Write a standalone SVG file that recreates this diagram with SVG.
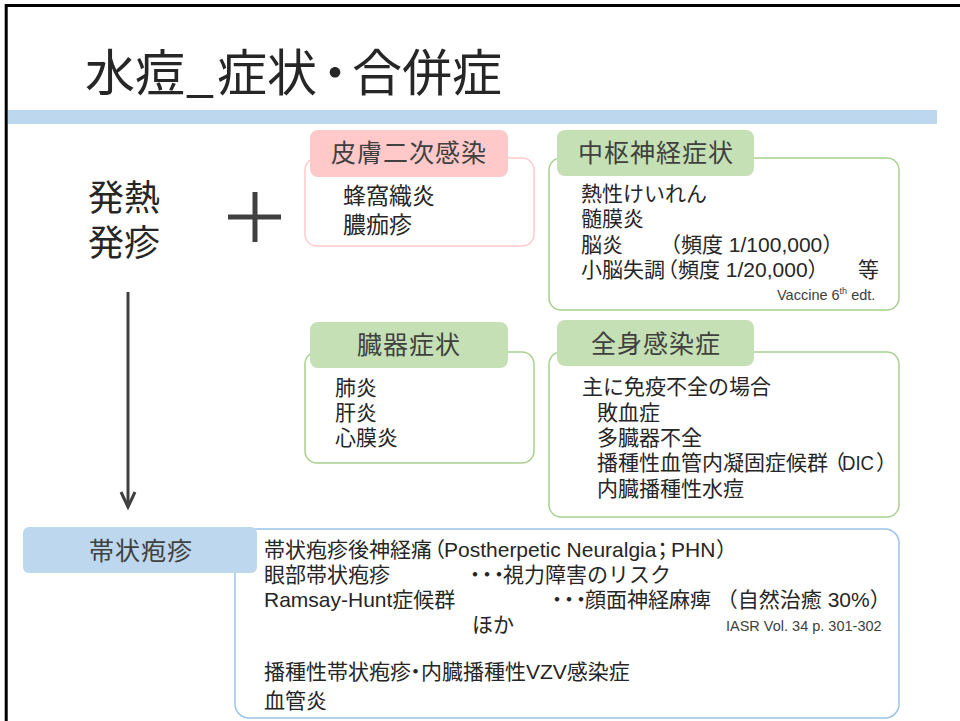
<svg xmlns="http://www.w3.org/2000/svg" width="960" height="721" viewBox="0 0 960 721">
  <style>
    .jp { font-family: "Liberation Sans", "Noto Sans CJK JP", sans-serif; fill: #262626; }
    .title { font-family: "Noto Sans CJK JP", sans-serif; font-size: 50px; fill: #262626; }
    .hdr { font-family: "Noto Sans CJK JP", sans-serif; font-size: 25px; fill: #404040; text-anchor: middle; letter-spacing: 1px; }
    .b21 { font-size: 21px; }
    .b23 { font-size: 23px; }
    .small { font-family: "Liberation Sans", sans-serif; font-size: 14.5px; fill: #404040; }
    .pinkH { fill: #ffc9c9; }
    .pinkB { fill: #ffffff; stroke: #ffcaca; stroke-width: 1.5; }
    .greenH { fill: #c5e0b4; }
    .greenB { fill: #ffffff; stroke: #a9d18e; stroke-width: 1.5; }
    .blueH { fill: #bdd7ee; }
    .blueB { fill: #ffffff; stroke: #9dc3e6; stroke-width: 1.5; }
    .conn { stroke: #404040; stroke-width: 3; fill: none; }
  </style>

  <rect x="0" y="0" width="960" height="721" fill="#ffffff"/>
  <path d="M6.2,721 V5.5 H960" fill="none" stroke="#000000" stroke-width="3"/>
  <rect x="8" y="110" width="929" height="14" fill="#bdd7ee"/>

  <g id="title">
    <text class="title" y="91"><tspan x="85">水痘</tspan><tspan x="186">_</tspan><tspan x="217">症状</tspan><tspan x="310">・</tspan><tspan x="352">合併症</tspan></text>
  </g>

  <g id="fever-rash">
    <text class="jp" font-size="36" x="88" y="211">発熱</text>
    <text class="jp" font-size="36" x="88" y="256">発疹</text>
  </g>

  <g id="plus">
    <path d="M228,217 H281 M255,192 V242" stroke="#404040" stroke-width="5" fill="none"/>
  </g>

  <g id="skin-infection">
    <rect class="pinkB" x="305" y="158" width="229" height="88" rx="12"/>
    <rect class="pinkH" x="310" y="130" width="198" height="47" rx="8"/>
    <text class="hdr" x="409" y="162">皮膚二次感染</text>
    <text class="jp b23" x="343" y="204">蜂窩織炎</text>
    <text class="jp b23" x="343" y="233">膿痂疹</text>
  </g>

  <g id="cns">
    <rect class="greenB" x="549" y="158" width="350" height="152" rx="12"/>
    <rect class="greenH" x="557" y="130" width="197" height="46" rx="8"/>
    <text class="hdr" x="656" y="162">中枢神経症状</text>
    <text class="jp b21" x="581" y="200.5">熱性けいれん</text>
    <text class="jp b21" x="581" y="226">髄膜炎</text>
    <text class="jp b21" y="251.5"><tspan x="581">脳炎</tspan><tspan x="660">（頻度 1/100,000）</tspan></text>
    <text class="jp b21" y="277"><tspan x="581">小脳失調</tspan><tspan x="657">（頻度 1/20,000）</tspan><tspan x="858">等</tspan></text>
    <text class="small" x="777" y="300">Vaccine 6<tspan font-size="9" dy="-6">th</tspan><tspan dy="6"> edt.</tspan></text>
  </g>

  <g id="organ">
    <rect class="greenB" x="305" y="352" width="229" height="111" rx="12"/>
    <rect class="greenH" x="310" y="322" width="198" height="46" rx="8"/>
    <text class="hdr" x="409" y="354">臓器症状</text>
    <text class="jp b21" x="335" y="394.5">肺炎</text>
    <text class="jp b21" x="335" y="420">肝炎</text>
    <text class="jp b21" x="335" y="445">心膜炎</text>
  </g>

  <g id="systemic">
    <rect class="greenB" x="549" y="352" width="350" height="165" rx="12"/>
    <rect class="greenH" x="557" y="320" width="197" height="46" rx="8"/>
    <text class="hdr" x="656" y="353">全身感染症</text>
    <text class="jp b21" x="582" y="393.5">主に免疫不全の場合</text>
    <text class="jp b21" x="597" y="419.5">敗血症</text>
    <text class="jp b21" x="597" y="444.5">多臓器不全</text>
    <text class="jp b21" y="470"><tspan x="597">播種性血管内凝固症候群</tspan><tspan x="824">（</tspan><tspan x="842" textLength="32" lengthAdjust="spacingAndGlyphs">DIC</tspan><tspan x="876">）</tspan></text>
    <text class="jp b21" x="597" y="496">内臓播種性水痘</text>
  </g>

  <g id="zoster">
    <rect class="blueB" x="235" y="529" width="664" height="189" rx="14"/>
    <rect class="blueH" x="23" y="527" width="234" height="46" rx="6"/>
    <text class="hdr" x="141" y="560">帯状疱疹</text>
    <text class="jp b21" y="556.5"><tspan x="264">帯状疱疹後神経痛</tspan><tspan x="424">（</tspan><tspan x="444">Postherpetic Neuralgia</tspan><tspan x="652">；</tspan><tspan x="671">PHN</tspan><tspan x="716">）</tspan></text>
    <text class="jp b21" y="581.5"><tspan x="264">眼部帯状疱疹</tspan><tspan x="464.5 476.5 488.5">・・・</tspan><tspan x="503">視力障害のリスク</tspan></text>
    <text class="jp b21" y="606.5"><tspan x="264">Ramsay-Hunt症候群</tspan><tspan x="546.5 558.5 570.5">・・・</tspan><tspan x="585">顔面神経麻痺 （自然治癒 30%）</tspan></text>
    <text class="jp b21" x="472" y="631.5">ほか</text>
    <text class="small" x="726" y="630.5">IASR Vol. 34 p. 301-302</text>
    <text class="jp b21" y="678.5"><tspan x="264">播種性帯状疱疹</tspan><tspan x="405">・</tspan><tspan x="421">内臓播種性VZV感染症</tspan></text>
    <text class="jp b21" x="264" y="707.5">血管炎</text>
  </g>

  <g id="connectors">
    <path class="conn" d="M128,292 V506"/>
    <path class="conn" d="M121,492 L128,507 L135,492"/>
  </g>
</svg>
